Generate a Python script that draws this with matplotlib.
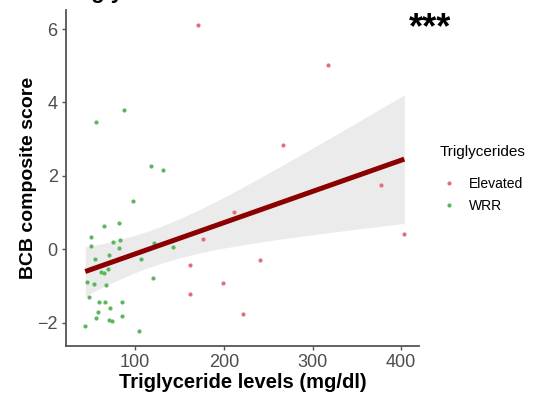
"""Triglyceride levels vs BCB composite score, with a linear fit."""

import numpy as np
import matplotlib
matplotlib.use("Agg")
import matplotlib.pyplot as plt
from matplotlib.lines import Line2D

plt.rcParams["font.family"] = ["Liberation Sans", "DejaVu Sans"]

# values
elevated_tg = [171, 318, 266.5, 377, 403.5, 177, 211, 241, 199, 222, 161.6, 161.6]
elevated_bcb = [6.11, 5.01, 2.84, 1.75, 0.41, 0.29, 1.02, -0.30, -0.92, -1.78, -0.42, -1.23]

wrr_tg = [56, 87, 118, 131, 98, 65, 82, 50, 50, 75, 83, 82, 70.5, 54.5, 121,
          142.5, 107, 69.4, 61, 65, 45.5, 54, 67.5, 120, 48, 59, 66, 85, 71.7,
          58.6, 55.6, 85, 70.5, 74, 43.7, 104]
wrr_bcb = [3.48, 3.80, 2.28, 2.16, 1.30, 0.62, 0.72, 0.33, 0.08, 0.20, 0.25, 0.04,
           -0.17, -0.28, 0.18, 0.05, -0.28, -0.54, -0.61, -0.64, -0.90, -0.95,
           -0.97, -0.79, -1.30, -1.45, -1.44, -1.43, -1.61, -1.70, -1.89, -1.81,
           -1.92, -1.96, -2.09, -2.22]

group_labels = ["Elevated", "WRR"]
group_colors = ["#E0707B", "#5CB65C"]
x_ticks = [100, 200, 300, 400]
y_ticks = [-2, 0, 2, 4, 6]


def fit_with_band(x, y, grid):
    """Least squares line and its 95% confidence band."""
    x = np.asarray(x)
    y = np.asarray(y)
    n = len(x)
    slope, intercept = np.polyfit(x, y, 1)
    resid = y - (intercept + slope * x)
    s = np.sqrt(np.sum(resid ** 2) / (n - 2))
    sxx = np.sum((x - x.mean()) ** 2)
    se = s * np.sqrt(1 / n + (grid - x.mean()) ** 2 / sxx)
    fit = intercept + slope * grid
    t = 2.01
    return fit, fit - t * se, fit + t * se


def main() -> None:
    fig = plt.figure(figsize=(5.38, 4.0), dpi=100, facecolor="white")
    ax = fig.add_axes([0.1227, 0.135, 0.656, 0.84])

    all_x = elevated_tg + wrr_tg
    all_y = elevated_bcb + wrr_bcb
    grid = np.linspace(min(all_x), max(all_x), 100)
    fit, low, high = fit_with_band(all_x, all_y, grid)

    ax.fill_between(grid, low, high, color="#EBEBEB", linewidth=0, zorder=1)

    ax.scatter(elevated_tg, elevated_bcb, s=9, color=group_colors[0],
               linewidths=0, zorder=2)
    ax.scatter(wrr_tg, wrr_bcb, s=9, color=group_colors[1],
               linewidths=0, zorder=2)

    ax.plot(grid, fit, color="#8B0000", linewidth=3.6,
            solid_capstyle="butt", zorder=3)

    ax.set_xlim(22, 420)
    ax.set_ylim(-2.64, 6.52)
    ax.set_xticks(x_ticks)
    ax.set_yticks(y_ticks)

    for side in ["top", "right"]:
        ax.spines[side].set_visible(False)
    for side in ["left", "bottom"]:
        ax.spines[side].set_color("#555555")
        ax.spines[side].set_linewidth(1.3)
    ax.tick_params(length=3, width=1, color="#555555",
                   labelsize=13, labelcolor="#4D4D4D", pad=3)

    ax.set_xlabel("Triglyceride levels (mg/dl)", fontsize=14.5,
                  fontweight="bold", labelpad=1)
    ax.set_ylabel("BCB composite score", fontsize=14,
                  fontweight="bold", labelpad=0)

    # cut-off panel title above the frame
    fig.text(65 / 538, 1.005, "Triglycerides", fontsize=16,
             fontweight="bold", ha="left", va="baseline")

    fig.text(430 / 538, 1 - 29 / 400, "***", fontsize=26,
             fontweight="bold", ha="center", va="center")

    # legend
    fig.text(440 / 538, 1 - 152 / 400, "Triglycerides", fontsize=11,
             ha="left", va="center")
    handles = [
        Line2D([], [], marker="o", linestyle="", markersize=3,
               markerfacecolor=c, markeredgewidth=0)
        for c in group_colors
    ]
    fig.legend(handles, group_labels,
               loc="upper left", bbox_to_anchor=(442 / 538, 1 - 177 / 400),
               frameon=False, fontsize=10,
               labelspacing=0.6, handletextpad=0.95, handlelength=1.0,
               borderpad=0, borderaxespad=0)

    fig.savefig("out.png", dpi=100, facecolor="white")
    plt.close(fig)


if __name__ == "__main__":
    main()
